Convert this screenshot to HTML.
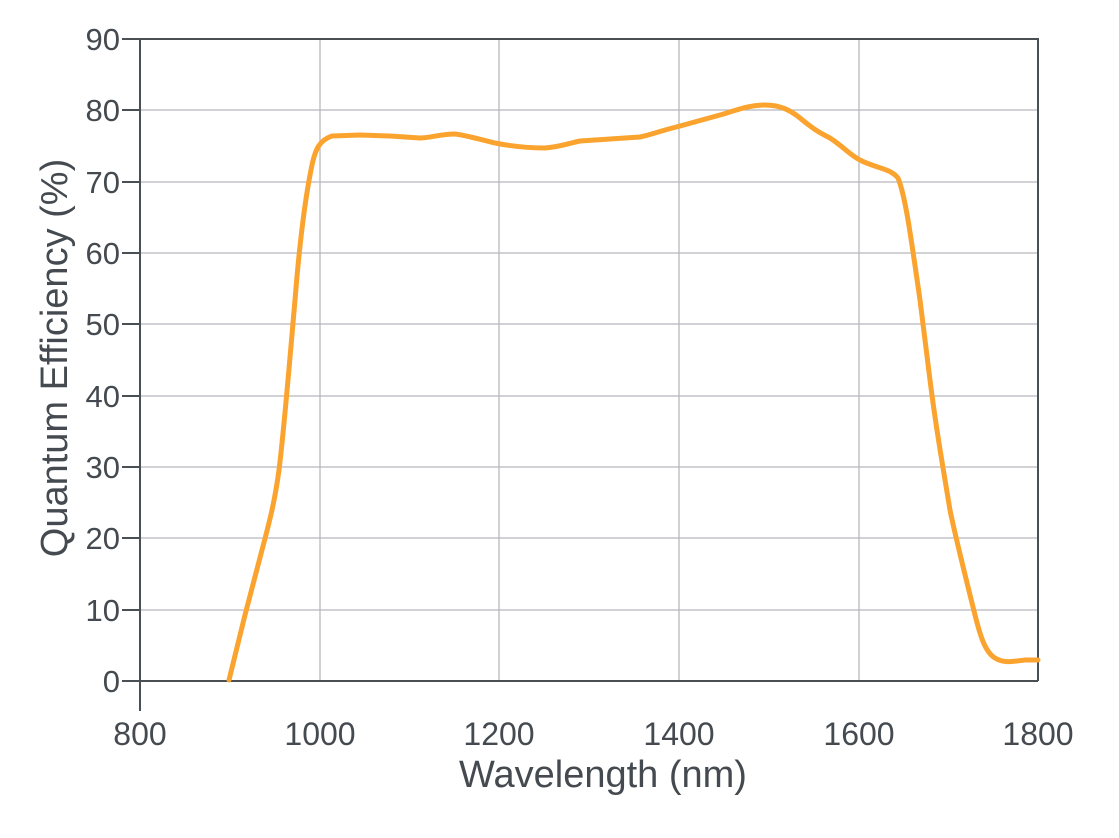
<!DOCTYPE html>
<html><head><style>body{margin:0;background:#fff}</style></head><body>
<svg width="1119" height="833" xmlns="http://www.w3.org/2000/svg" font-family="Liberation Sans, sans-serif" fill="#444a4f">
<g stroke="#b8b8bd" stroke-width="1.3">
<line x1="320" y1="39" x2="320" y2="681"/><line x1="499" y1="39" x2="499" y2="681"/><line x1="679" y1="39" x2="679" y2="681"/><line x1="859" y1="39" x2="859" y2="681"/>
<line x1="140" y1="110" x2="1038" y2="110"/><line x1="140" y1="182" x2="1038" y2="182"/><line x1="140" y1="253" x2="1038" y2="253"/><line x1="140" y1="324" x2="1038" y2="324"/><line x1="140" y1="396" x2="1038" y2="396"/><line x1="140" y1="467" x2="1038" y2="467"/><line x1="140" y1="538" x2="1038" y2="538"/><line x1="140" y1="610" x2="1038" y2="610"/>
</g>
<g stroke="#4a4f54" stroke-width="2" fill="none">
<polyline points="140,39 1038,39 1038,681"/>
<line x1="140" y1="39" x2="140" y2="711"/>
<line x1="122" y1="681" x2="1038" y2="681"/>
<line x1="122" y1="39" x2="140" y2="39"/><line x1="122" y1="110" x2="140" y2="110"/><line x1="122" y1="182" x2="140" y2="182"/><line x1="122" y1="253" x2="140" y2="253"/><line x1="122" y1="324" x2="140" y2="324"/><line x1="122" y1="396" x2="140" y2="396"/><line x1="122" y1="467" x2="140" y2="467"/><line x1="122" y1="538" x2="140" y2="538"/><line x1="122" y1="610" x2="140" y2="610"/>
</g>
<path fill="none" stroke="#fba32f" stroke-width="5" stroke-linejoin="round" stroke-linecap="round" d="M229,680 L245,615 L262,550 C270,520 275,500 279,470 C284,430 288,380 295,300 C299,250 305,200 311,170 C315,148 320,140 332,136 L360,135 L390,136 L420,138 C430,138 440,134 455,134 C465,135 478,139 495,143 C510,146 525,148 545,148 C560,147 570,143 580,141 L610,139 L640,137 C650,135 660,131 680,126 L720,115 C740,109 750,105 765,105 C780,105 790,110 800,118 C812,128 818,132 830,138 C845,148 850,155 860,160 C875,168 890,168 898,178 C905,195 910,230 920,300 L930,380 C935,420 940,450 950,510 C955,535 965,575 975,615 C980,635 985,652 995,658 C1003,663 1010,662 1025,660 L1038,660"/>
<g font-size="31" text-anchor="end">
<text x="120" y="50">90</text><text x="120" y="121">80</text><text x="120" y="193">70</text><text x="120" y="264">60</text><text x="120" y="335">50</text><text x="120" y="407">40</text><text x="120" y="478">30</text><text x="120" y="549">20</text><text x="120" y="621">10</text><text x="120" y="692">0</text>
</g>
<g font-size="32" text-anchor="middle">
<text x="140" y="745">800</text><text x="320" y="745">1000</text><text x="499" y="745">1200</text><text x="679" y="745">1400</text><text x="859" y="745">1600</text><text x="1038" y="745">1800</text>
<text x="603" y="787" font-size="38">Wavelength (nm)</text>
<text transform="translate(67,358) rotate(-90)" font-size="38">Quantum Efficiency (%)</text>
</g>
</svg>
</body></html>
